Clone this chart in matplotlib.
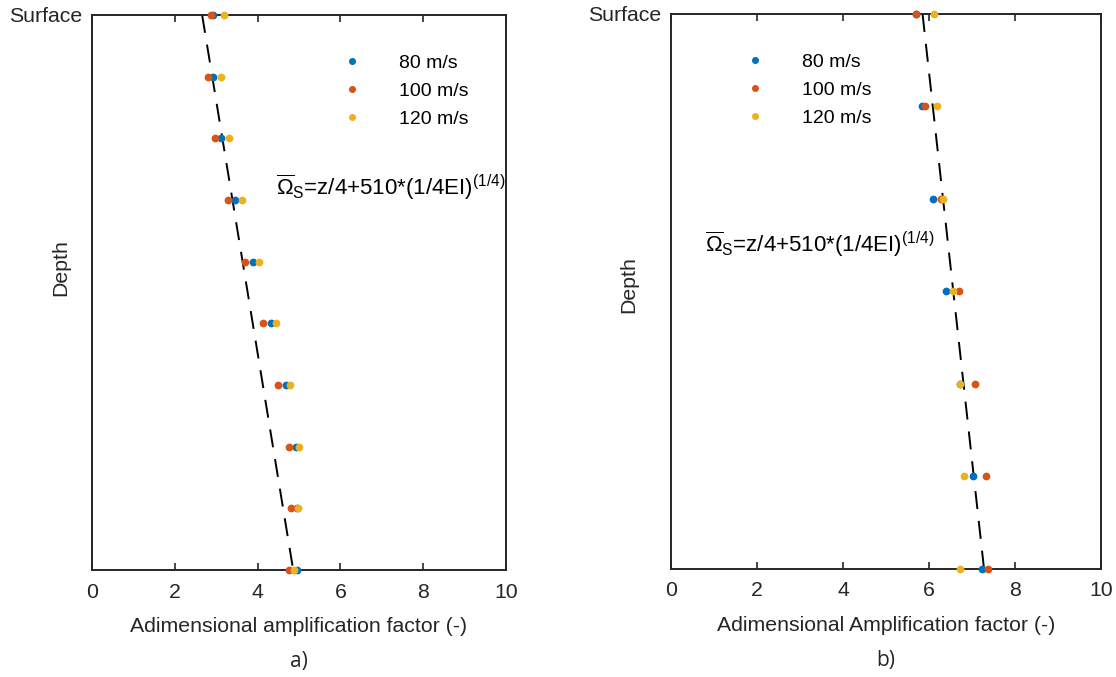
import numpy as np
import matplotlib
matplotlib.use("Agg")
import matplotlib.pyplot as plt

plt.rcParams['font.family'] = ['Liberation Sans', 'DejaVu Sans']
plt.rcParams['mathtext.fontset'] = 'custom'
plt.rcParams['mathtext.rm'] = 'Liberation Sans'
plt.rcParams['mathtext.it'] = 'Liberation Sans'
plt.rcParams['mathtext.sf'] = 'Liberation Sans'
plt.rcParams['lines.scale_dashes'] = False

speeds = ['80 m/s', '100 m/s', '120 m/s']
colors = ['#0072BD', '#D95319', '#EDB120']

# panel a) - depth rows 0 (surface) .. 9
depth_a = np.arange(10)
a_80 = [2.93, 2.93, 3.12, 3.46, 3.88, 4.32, 4.69, 4.93, 4.96, 4.94]
a_100 = [2.87, 2.80, 2.96, 3.29, 3.69, 4.12, 4.49, 4.75, 4.81, 4.75]
a_120 = [3.19, 3.12, 3.30, 3.62, 4.03, 4.44, 4.78, 4.99, 4.98, 4.88]
fit_a = [2.66, 4.86]

# panel b) - depth rows 0 (surface) .. 6
depth_b = np.arange(7)
b_80 = [5.70, 5.83, 6.09, 6.40, 6.72, 7.03, 7.24]
b_100 = [5.69, 5.91, 6.27, 6.69, 7.06, 7.32, 7.37]
b_120 = [6.11, 6.18, 6.33, 6.55, 6.72, 6.81, 6.72]
fit_b = [5.85, 7.28]

formula = r'$\overline{\Omega}_\mathrm{S}$=z/4+510*(1/4EI)$^{(1/4)}$'
grey = '#262626'
fs = 15.3

fig = plt.figure(figsize=(11.16, 6.77), dpi=100)
ax1 = fig.add_axes([92/1116, 107/677, 414/1116, 555/677])
ax2 = fig.add_axes([671/1116, 108/677, 430/1116, 555/677])


def panel(ax, depth, series, fit, xlabel, tag, leg_xy, form_xy, ylab_xy):
    ax.plot(fit, [depth[0], depth[-1]], color='black', lw=1.4, dashes=(13, 8.6), zorder=1)
    for vals, c, lab in zip(series, colors, speeds):
        ax.plot(vals, depth, 'o', ms=5.6, color=c, mec='none', label=lab, zorder=3, clip_on=False)
    ax.set_xlim(0, 10)
    ax.set_ylim(depth[-1], depth[0])
    ax.set_xticks([0, 2, 4, 6, 8, 10])
    ax.set_yticks([0])
    ax.set_yticklabels(['Surface'])
    ax.tick_params(direction='in', top=True, length=5, width=1.2, colors=grey,
                   labelsize=fs, pad=9)
    ax.tick_params(axis='y', length=0, pad=7)
    for s in ax.spines.values():
        s.set_linewidth(1.4)
        s.set_color(grey)
    ax.set_xlabel(xlabel, fontsize=fs, color=grey, labelpad=11)
    ax.set_ylabel('Depth', fontsize=fs, color=grey)
    ax.yaxis.set_label_coords(*ylab_xy)
    ax.text(0.5, -0.164, tag, transform=ax.transAxes, ha='center', va='center',
            fontsize=15, color=grey, family='Open Sans')
    ax.legend(loc='upper left', bbox_to_anchor=leg_xy, frameon=False, fontsize=14,
              handletextpad=1.82, labelspacing=0.53, handlelength=1.2, markerscale=0.9)
    ax.text(form_xy[0], form_xy[1], formula, transform=ax.transAxes, fontsize=16,
            color='black', ha='left', va='center')


panel(ax1, depth_a, [a_80, a_100, a_120], fit_a, 'Adimensional amplification factor (-)',
      'a)', (0.558, 0.961), (0.445, 0.69), (-0.053, 0.545))
panel(ax2, depth_b, [b_80, b_100, b_120], fit_b, 'Adimensional Amplification factor (-)',
      'b)', (0.128, 0.961), (0.08, 0.585), (-0.077, 0.512))

fig.savefig('out.png', dpi=100)
